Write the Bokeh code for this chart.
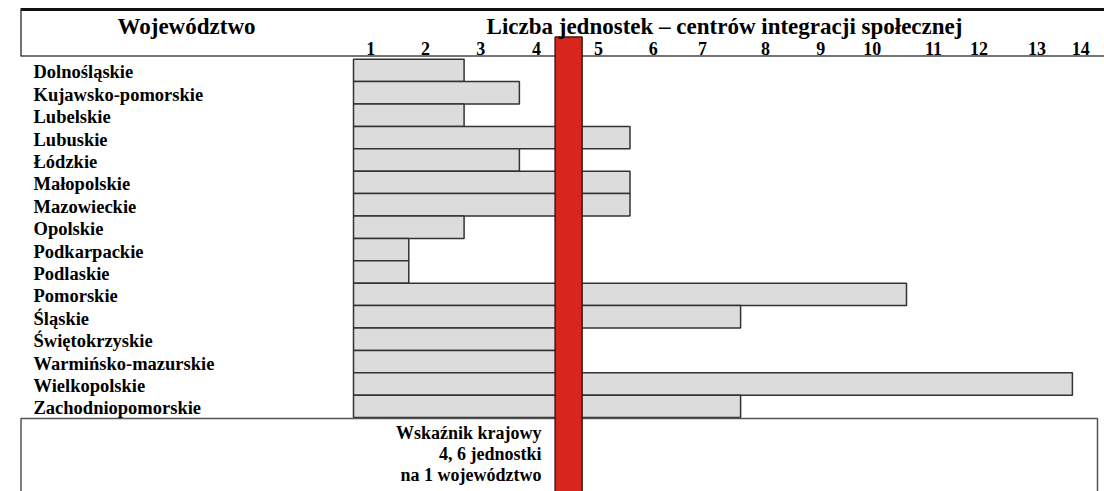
from bokeh.plotting import figure
from bokeh.models import Range1d
from bokeh.core.properties import value
from bokeh.embed import file_html
from bokeh.resources import INLINE

# ---- data ----
voivodeships = ["Dolnośląskie", "Kujawsko-pomorskie", "Lubelskie", "Lubuskie", "Łódzkie",
                "Małopolskie", "Mazowieckie", "Opolskie", "Podkarpackie", "Podlaskie",
                "Pomorskie", "Śląskie", "Świętokrzyskie", "Warmińsko-mazurskie",
                "Wielkopolskie", "Zachodniopomorskie"]
units = [2, 3, 2, 5, 3, 5, 5, 2, 1, 1, 10, 7, 4, 4, 13, 7]
tick_labels = ["1", "2", "3", "4", "5", "6", "7", "8", "9", "10", "11", "12", "13", "14"]
tick_pos = [0.31, 1.30, 2.30, 3.31, 4.43, 5.42, 6.31, 7.45, 8.45, 9.38, 10.49, 11.31, 12.36, 13.15]
indicator_pos = [3.89]          # where the national-indicator band is drawn
indicator_text = ["Wskaźnik krajowy", "4, 6 jednostki", "na 1 województwo"]
header_left = "Województwo"
header_right = "Liczba jednostek – centrów integracji społecznej"

# ---- layout helpers (picture px -> data) ----
X0, UX = 353.0, 55.3
Y0, UY = 69.9, 22.4
def dx(px):
    return (px - X0) / UX
def dy(py):
    return (py - Y0) / UY

W, H = 1104, 491
p = figure(width=W, height=H, x_range=Range1d(dx(0), dx(W)),
           y_range=Range1d(dy(H), dy(0)),
           x_axis_type=None, y_axis_type=None, toolbar_location=None,
           output_backend="svg", min_border=0, outline_line_color=None)
p.grid.visible = False
p.background_fill_color = "white"

FONT = value("Liberation Serif")
rows = list(range(len(voivodeships)))

# bars
p.hbar(y=rows, left=0, right=units, height=1, fill_color="#DCDCDC",
       line_color="#333333", line_width=1.5)

# header frame
p.line(x=[dx(20), dx(1110)], y=[dy(9), dy(9)], line_color="#111111", line_width=3)
p.line(x=[dx(20.5), dx(20.5)], y=[dy(9), dy(55.5)], line_color="#444444", line_width=1.5)
p.line(x=[dx(20), dx(1110)], y=[dy(55.5), dy(55.5)], line_color="#444444", line_width=1.5)

# bottom box
p.line(x=[dx(20.5), dx(20.5), dx(1097), dx(1097)],
       y=[dy(500), dy(418), dy(418), dy(500)], line_color="#555555", line_width=1.5)

# national indicator band
half = 0.244
p.quad(left=[v - half for v in indicator_pos], right=[v + half for v in indicator_pos],
       top=dy(36.5), bottom=dy(500), fill_color="#D9261C", line_color="#3a1a16", line_width=1.5)

# header texts
p.text(x=[dx(186)], y=[dy(26)], text=[header_left], text_font=FONT, text_font_style="bold",
       text_font_size="23px", text_align="center", text_baseline="alphabetic", text_color="black")
p.text(x=[dx(724)], y=[dy(26)], text=[header_right], text_font=FONT, text_font_style="bold",
       text_font_size="23px", text_align="center", text_baseline="alphabetic", text_color="black")

# tick labels
p.text(x=tick_pos, y=[dy(47.5)] * len(tick_pos), text=tick_labels, text_font=FONT,
       text_font_style="bold", text_font_size="18px", text_align="center",
       text_baseline="alphabetic", text_color="black")

# row labels
p.text(x=[dx(33)] * len(rows), y=rows, text=voivodeships, text_font=FONT,
       text_font_style="bold", text_font_size="18.5px", text_align="left",
       text_baseline="alphabetic", y_offset=2, text_color="black")

# indicator label
p.text(x=[dx(541)] * 3, y=[dy(432.5), dy(453.5), dy(474.5)], text=indicator_text, text_font=FONT,
       text_font_style="bold", text_font_size="18px", text_align="right",
       text_baseline="alphabetic", text_color="black")

open("out.html", "w").write(file_html(p, INLINE))
